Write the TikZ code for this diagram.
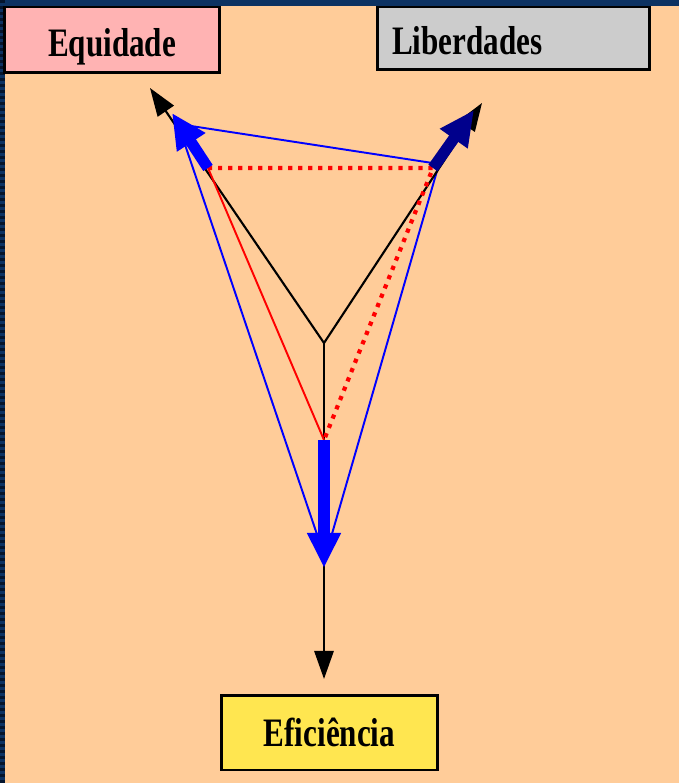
\documentclass[tikz,border=0pt]{standalone}
\usepackage{fontspec}
\newfontfamily\boxfont[FakeStretch=0.77]{Liberation Serif}
\usetikzlibrary{arrows.meta}

\begin{document}
\begin{tikzpicture}[x=0.02cm,y=-0.02cm,
  labelbox/.style={draw=black,line width=1.7pt,inner sep=0pt,
    font=\boxfont\bfseries\fontsize{23}{23}\selectfont,text depth=0pt},
  axisarrow/.style={black,line width=1.2pt,-{Triangle[length=16pt,width=11pt]}},
  shiftarrow/.style={line width=6.4pt,-{Triangle[length=20pt,width=18pt]}}]
% Define scheme colours
\definecolor{peach}{HTML}{FFCC99}
\definecolor{equi}{HTML}{FFB3B3}
\definecolor{liber}{HTML}{CCCCCC}
\definecolor{efic}{HTML}{FFE650}
\definecolor{navy}{HTML}{0C3262}
\definecolor{navydark}{HTML}{04152E}
\definecolor{deepblue}{HTML}{00008C}

% Background and frame
\useasboundingbox (0,0) rectangle (679,783);
\fill[peach] (0,0) rectangle (679,783);
\fill[navy] (0,0) rectangle (5,783);
\fill[navy] (0,0) rectangle (679,6);
\foreach \y in {0,6,...,780}
  \fill[navydark] (0,\y) rectangle (5,\y+3);

% Label boxes
\node[labelbox,fill=equi,minimum width=4.32cm,minimum height=1.32cm,
  text height=19.3pt] (equi) at (112,40) {Equidade};
\node[labelbox,fill=liber,text width=4.86cm,align=left,inner xsep=0.3cm,
  minimum height=1.26cm,text height=18.7pt] (liber) at (513.5,38.5) {Liberdades};
\node[labelbox,fill=efic,minimum width=4.34cm,minimum height=1.5cm,
  text height=16.4pt] (efic) at (329.5,732.5) {Eficiência};

% Centre and axis tips
\coordinate (O) at (324,343);
\coordinate (tipE) at (150,88);
\coordinate (tipL) at (482,103);
\coordinate (tipF) at (324,679);

% Red triangle
\coordinate (rE) at (208,168);
\coordinate (rL) at (433,168);
\coordinate (rF) at (324,440);

% Blue arrow tips and blue triangle
\coordinate (bE) at (172,113);
\coordinate (bL) at (474,110);
\coordinate (bF) at (324,568);
\coordinate (gE) at (178,124);
\coordinate (gL) at (439,164);
\coordinate (gF) at (325,558);

\draw[blue,line width=1.1pt] (gE) -- (gL) -- (gF) -- cycle;

% Axes
\draw[axisarrow] (O) -- (tipE);
\draw[axisarrow] (O) -- (tipL);
\draw[axisarrow] (O) -- (tipF);

% Red triangle sides
\draw[red,line width=1.1pt] (rE) -- (rF);
\draw[red,line width=2.4pt,dash pattern=on 2.4pt off 3.3pt] (rE) -- (rL) -- (rF);

% Thick blue arrows
\draw[shiftarrow,blue] (rE) -- (bE);
\draw[shiftarrow,deepblue] (rL) -- (bL);
\draw[shiftarrow,blue] (rF) -- (bF);
\end{tikzpicture}
\end{document}
